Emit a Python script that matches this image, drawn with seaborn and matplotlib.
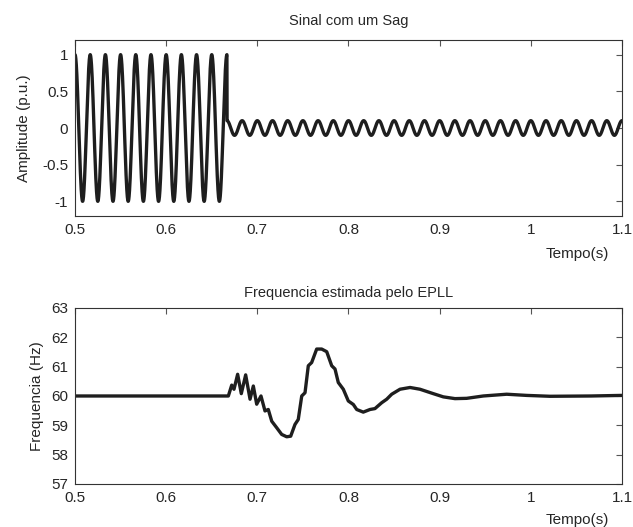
import numpy as np
import pandas as pd
import matplotlib
matplotlib.use("Agg")
import matplotlib.pyplot as plt
import seaborn as sns

# Sinal com sag: parametros
freq_rede = 60.0        # Hz
amp_normal = 1.0        # p.u. antes do sag
amp_sag = 0.1           # p.u. durante o sag
t_sag = 2.0 / 3.0       # instante do sag (s)
t_ini, t_fim = 0.5, 1.1

# Frequencia estimada pelo EPLL
t_freq = [0.5, 0.6682, 0.6719, 0.6744, 0.6784, 0.6824, 0.6872, 0.692, 0.6956,
          0.6993, 0.704, 0.7084, 0.712, 0.7158, 0.7212, 0.7267, 0.7322, 0.7366,
          0.7413, 0.7449, 0.7487, 0.7523, 0.7559, 0.7596, 0.7651, 0.7706,
          0.7761, 0.7816, 0.7852, 0.7888, 0.7943, 0.7998, 0.8053, 0.809,
          0.8162, 0.8236, 0.829, 0.8364, 0.8419, 0.8474, 0.8565, 0.8675,
          0.8784, 0.893, 0.904, 0.9168, 0.9296, 0.9478, 0.9735, 0.9954,
          1.021, 1.066, 1.1]
f_est = [60.0, 60.0, 60.37, 60.23, 60.74, 60.08, 60.72, 59.89, 60.34,
         59.72, 60.0, 59.49, 59.54, 59.14, 58.92, 58.69, 58.61, 58.63,
         59.03, 59.2, 60.0, 60.11, 61.03, 61.14, 61.6, 61.6,
         61.51, 61.03, 60.92, 60.46, 60.23, 59.83, 59.71, 59.54,
         59.45, 59.54, 59.57, 59.77, 59.89, 60.06, 60.23, 60.29,
         60.23, 60.08, 59.97, 59.91, 59.92, 60.0, 60.06, 60.02,
         59.99, 60.0, 60.02]

sns.set_style("white")
plt.rcParams["font.family"] = ["Liberation Sans", "DejaVu Sans"]
plt.rcParams["axes.unicode_minus"] = False
plt.rcParams["xtick.direction"] = "in"
plt.rcParams["ytick.direction"] = "in"

t = np.linspace(t_ini, t_fim, 6000)
amp = np.where(t < t_sag, amp_normal, amp_sag)
sinal = pd.DataFrame({"t": t, "v": amp * np.cos(2 * np.pi * freq_rede * t)})
freq = pd.DataFrame({"t": t_freq, "f": f_est})

fig = plt.figure(figsize=(6.33, 5.27), dpi=100)
ax1 = fig.add_axes([0.1185, 0.5901, 0.8641, 0.334])
ax2 = fig.add_axes([0.1185, 0.0816, 0.8641, 0.334])

cor = "#1e1e1e"
sns.lineplot(data=sinal, x="t", y="v", ax=ax1, color=cor, lw=2.4)
sns.lineplot(data=freq, x="t", y="f", ax=ax2, color=cor, lw=2.4)

ax1.set_ylim(-1.2, 1.2)
ax1.set_yticks([-1, -0.5, 0, 0.5, 1])
ax1.set_yticklabels(["-1", "-0.5", "0", "0.5", "1"])
ax1.set_title("Sinal com um Sag", fontsize=10.5, pad=11)
ax1.set_ylabel("Amplitude (p.u.)", fontsize=11, labelpad=8)

ax2.set_ylim(57, 63)
ax2.set_yticks(range(57, 64))
ax2.set_title("Frequencia estimada pelo EPLL", fontsize=10.5, pad=8)
ax2.set_ylabel("Frequencia (Hz)", fontsize=11, labelpad=5)

xt = [0.5, 0.6, 0.7, 0.8, 0.9, 1.0, 1.1]
for ax, ylab in [(ax1, -0.217), (ax2, -0.205)]:
    ax.set_xlim(t_ini, t_fim)
    ax.set_xticks(xt)
    ax.set_xticklabels(["0.5", "0.6", "0.7", "0.8", "0.9", "1", "1.1"])
    ax.set_xlabel("Tempo(s)", fontsize=11)
    ax.xaxis.set_label_coords(0.918, ylab)
    ax.xaxis.label.set_va("center")
    ax.tick_params(labelsize=11, length=4, width=0.8, color="#555555",
                   top=True, right=True, pad=5)
    for s in ax.spines.values():
        s.set_color("#333333")
        s.set_linewidth(0.8)

fig.savefig("out.png", dpi=100)
